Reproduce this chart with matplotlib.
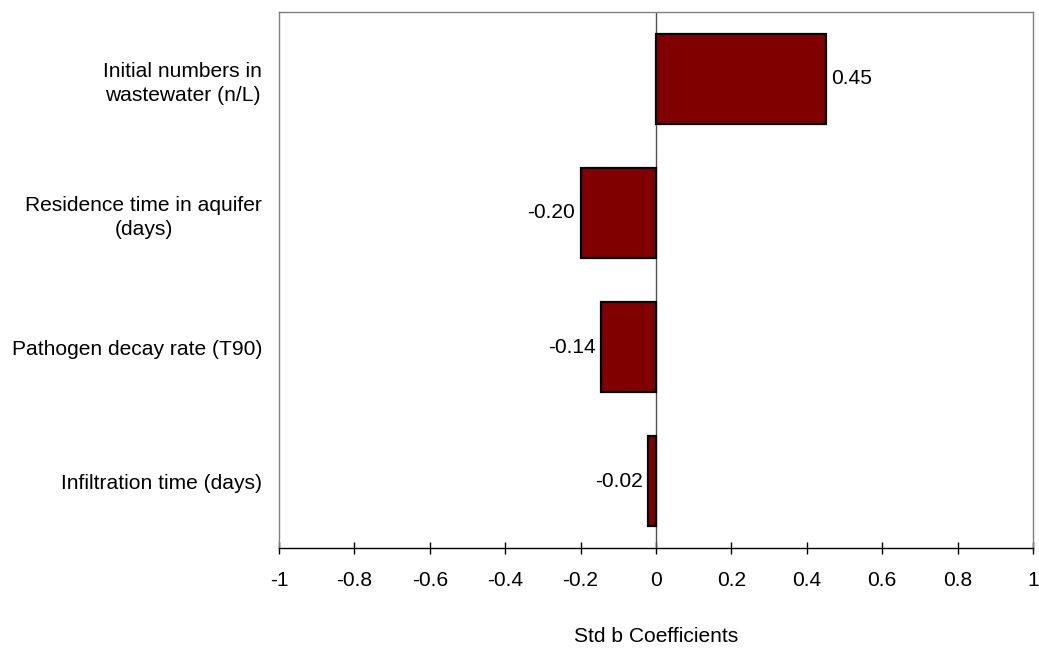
import numpy as np
import matplotlib
matplotlib.use("Agg")
from matplotlib import pyplot as plt
from matplotlib.ticker import FuncFormatter

plt.rcParams.update({"font.family": ["Liberation Sans", "DejaVu Sans"],
                     "font.size": 15.1})

# data
labels = ["Initial numbers in\nwastewater (n/L)",
          "Residence time in aquifer\n(days)",
          "Pathogen decay rate (T90)",
          "Infiltration time (days)"]
coefs = [0.45, -0.20, -0.145, -0.02]
xticks = [-1, -0.8, -0.6, -0.4, -0.2, 0, 0.2, 0.4, 0.6, 0.8, 1]

fig = plt.figure(figsize=(10.39, 6.48), dpi=100)
ax = fig.add_axes([0.2685, 0.1543, 0.7257, 0.8272])

ypos = np.arange(len(labels))
ax.barh(ypos, coefs, height=0.67, color="#800000", edgecolor="black", linewidth=1.6, zorder=3)
ax.axvline(0, color="#505050", linewidth=1, zorder=2)

# value labels next to the bar ends
for y, v in zip(ypos, coefs):
    if v >= 0:
        ax.text(v + 0.015, y, f"{v:.2f}", ha="left", va="center")
    else:
        ax.text(v - 0.015, y, f"{v:.2f}", ha="right", va="center")

ax.set_xlim(-1, 1)
ax.set_ylim(len(labels) - 0.5, -0.5)
ax.set_xticks(xticks)
ax.xaxis.set_major_formatter(FuncFormatter(lambda v, p: f"{v:g}"))
ax.set_yticks(ypos)
ax.set_yticklabels(labels, multialignment="center", linespacing=1.35)
ax.tick_params(axis="y", length=0, pad=12)
ax.tick_params(axis="x", direction="inout", length=9, width=1, color="black", pad=12)

for side in ["left", "top", "right"]:
    ax.spines[side].set_color("#808080")
    ax.spines[side].set_linewidth(1)
ax.spines["bottom"].set_color("black")
ax.spines["bottom"].set_linewidth(1)

ax.set_xlabel("Std b Coefficients", labelpad=27)

fig.savefig("out.png", dpi=100)
